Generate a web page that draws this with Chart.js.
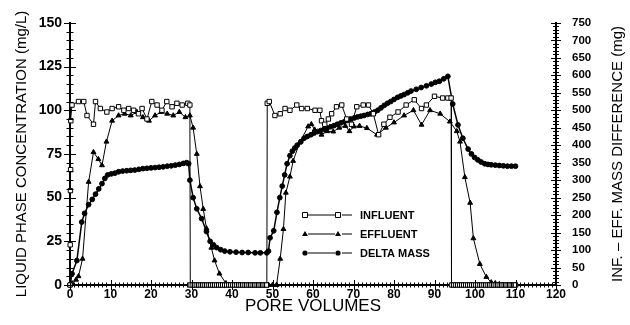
<!DOCTYPE html>
<html>
<head>
<meta charset="utf-8">
<script src="https://cdn.jsdelivr.net/npm/chart.js@4.4.0/dist/chart.umd.min.js"></script>
<style>
  html, body { margin: 0; padding: 0; background: #fff; }
  #wrap { width: 630px; height: 325px; position: relative; }
</style>
</head>
<body>
<div id="wrap"><canvas id="chart"></canvas></div>
<script>
// pore volume, concentration (mg/L)
const influent = [
  [0, 0], [0.05, 23], [0.1, 54], [0.15, 66], [0.2, 94], [0.5, 103], [2.1, 105], [3.4, 105], [4.2, 97], [5.8, 92],
  [6.3, 105], [7.5, 101], [9.1, 99], [10.4, 101], [12.0, 102], [13.3, 100], [14.5, 101], [15.7, 100], [16.9, 98], [17.8, 101],
  [19.0, 95], [20.2, 105], [21.5, 103], [22.7, 100], [23.9, 105], [25.2, 102], [26.4, 104], [27.7, 103], [29.1, 104], [29.6, 103],
  [29.7, 0], [30.2, 0], [30.7, 0], [31.2, 0], [31.7, 0], [32.2, 0], [32.7, 0], [33.2, 0], [33.7, 0], [34.2, 0],
  [34.7, 0], [35.2, 0], [35.7, 0], [36.2, 0], [36.7, 0], [37.2, 0], [37.7, 0], [38.2, 0], [38.7, 0], [39.2, 0],
  [39.7, 0], [40.2, 0], [40.7, 0], [41.2, 0], [41.7, 0], [42.2, 0], [42.7, 0], [43.2, 0], [43.7, 0], [44.2, 0],
  [44.7, 0], [45.2, 0], [45.7, 0], [46.2, 0], [46.7, 0], [47.2, 0], [47.7, 0], [48.2, 0], [48.6, 0],
  [48.7, 104], [49.2, 105], [50.6, 97], [51.9, 98], [53.1, 101], [54.3, 100], [56.0, 103], [57.2, 101], [58.6, 101], [60.5, 100],
  [61.7, 100], [62.1, 94], [62.9, 92], [63.8, 95], [64.6, 98], [65.8, 102], [67.1, 103], [68.3, 95], [69.5, 92], [70.8, 102],
  [72.4, 103], [73.7, 103], [74.9, 98], [76.2, 86], [77.5, 92], [79.0, 96], [81.0, 99], [83.0, 103], [85.0, 106], [86.8, 101],
  [88.0, 103], [90.0, 108], [92.0, 107], [93.3, 107], [94.1, 107],
  [94.2, 0], [94.7, 0], [95.2, 0], [95.7, 0], [96.2, 0], [96.7, 0], [97.2, 0], [97.7, 0], [98.2, 0], [98.7, 0],
  [99.2, 0], [99.7, 0], [100.2, 0], [100.7, 0], [101.2, 0], [101.7, 0], [102.2, 0], [102.7, 0], [103.2, 0], [103.7, 0],
  [104.2, 0], [104.7, 0], [105.2, 0], [105.7, 0], [106.2, 0], [106.7, 0], [107.2, 0], [107.7, 0], [108.2, 0], [108.7, 0],
  [109.2, 0], [109.7, 0], [110, 0]
];

const effluent = [
  [0, 0], [0.5, 1], [1.5, 3], [2.1, 5], [3.1, 15], [4.6, 59], [5.8, 76], [7.0, 72], [7.9, 68.5], [9.0, 82],
  [10.4, 94], [12.0, 97], [13.5, 98], [15, 97], [16.5, 99], [18, 96], [19.5, 94], [21, 97], [22.5, 99], [24, 98],
  [25.5, 97], [27, 99], [28.5, 96], [29.6, 97], [30.4, 90], [31.3, 75], [32.1, 56.5], [32.9, 43.5], [33.7, 32.4], [34.9, 21.3],
  [35.7, 14], [36.9, 6.5], [38.5, 1], [40.2, 0], [41, 0], [42, 0], [43, 0], [44, 0], [45, 0], [46, 0], [47, 0], [48, 0],
  [49, 0], [50, 0], [51, 0],
  [51.9, 15], [52.7, 32], [53.3, 52.8], [54.3, 62], [55.1, 71], [56.7, 81.5], [58.8, 90.7], [59.6, 92], [60.4, 88.9], [62.1, 86],
  [63.5, 88], [65, 87.8], [66.5, 90], [68, 91], [69, 88], [70.1, 90.7], [71.5, 91], [73.3, 89.8], [75.8, 86], [78, 90],
  [80, 93], [82.5, 97], [84.8, 100], [86.8, 91.7], [88.9, 100], [91.4, 98], [93.8, 93.5], [95.5, 88], [96.3, 82], [97.5, 61.7],
  [98.8, 47], [99.6, 26.7], [101.2, 12], [102.8, 4.6], [104, 1.5], [105, 1], [106, 0.5], [107, 0], [108, 0], [109, 0], [110, 0]
];

// pore volume, inf. - eff. mass difference (mg)
const deltaMass = [
  [0, 0], [0.5, 32], [1.7, 70], [2.9, 180], [3.6, 205], [4.6, 230], [5.5, 245], [6.3, 260], [7.1, 275], [7.9, 290],
  [8.6, 305], [9.3, 315], [10.2, 318], [11.1, 320], [12, 324], [13, 326], [14, 327], [15, 328], [16, 329], [17, 331],
  [18, 333], [19, 334], [20, 335], [21, 336], [22, 337], [23, 338], [24, 340], [25, 341], [26, 343], [27, 345],
  [28, 348], [28.8, 350], [29.3, 347], [29.6, 300], [30.4, 250], [31.3, 218], [32.5, 190], [33.7, 153], [34.6, 125], [35.4, 115],
  [36.2, 107], [37.2, 101], [38.2, 97], [39.5, 95], [41, 94], [42.5, 93], [44, 93], [45.7, 92], [47, 92], [48.6, 92],
  [49.0, 97], [49.4, 135], [50.3, 155], [51.1, 208], [51.8, 250], [52.4, 283], [53.0, 315], [53.6, 347], [54.3, 370], [54.9, 383],
  [55.5, 392], [56.1, 400], [57, 410], [57.8, 420], [58.6, 425], [59.5, 430], [60.3, 435], [61.1, 439], [61.9, 442], [62.7, 445],
  [63.5, 449], [64.4, 453], [65.2, 456], [66, 460], [66.9, 464], [67.7, 467], [68.5, 471], [69.3, 475], [70.2, 478], [71, 481],
  [71.8, 483], [72.6, 485], [73.5, 488], [74.3, 490], [75.2, 495], [76, 500], [76.8, 507], [77.6, 514], [78.4, 520], [79.2, 525],
  [80, 531], [80.9, 537], [81.7, 541], [82.5, 545], [83.4, 550], [84.2, 555], [85.5, 560], [86.7, 565], [88, 570], [89.2, 575],
  [90.2, 580], [91.2, 583], [92.3, 590], [93.3, 597], [94.5, 518], [95.8, 458], [97, 420], [98.3, 389], [99.1, 375], [99.9, 365],
  [100.7, 358], [101.5, 352], [102.4, 347], [103.2, 345], [104, 344], [105, 343], [106, 342], [107, 341], [108, 340], [109, 340],
  [110, 340]
];

const seriesLabels = ['INFLUENT', 'EFFLUENT', 'DELTA MASS'];
const xTitle = 'PORE VOLUMES';
const yTitle = 'LIQUID PHASE CONCENTRATION (mg/L)';
const y2Title = 'INF. \u2013 EFF. MASS DIFFERENCE (mg)';

const toPoints = arr => arr.map(p => ({ x: p[0], y: p[1] }));
const FONT = "'Liberation Sans', Arial, Helvetica, sans-serif";

Chart.defaults.font.family = FONT;
Chart.defaults.color = '#000';

// crossing tick marks, right axis title and the old-style legend
const extras = {
  id: 'extras',
  afterDraw(chart) {
    const ctx = chart.ctx;
    const { x, y, y2 } = chart.scales;
    const area = chart.chartArea;
    ctx.save();
    ctx.strokeStyle = '#000';
    ctx.lineWidth = 1;
    ctx.beginPath();
    for (let v = 0; v <= 120; v += 1) {
      const px = Math.round(x.getPixelForValue(v)) + 0.5;
      const len = v % 10 === 0 ? 5 : 2.5;
      ctx.moveTo(px, area.bottom - len);
      ctx.lineTo(px, area.bottom + len);
    }
    for (let v = 0; v <= 150; v += 5) {
      const py = Math.round(y.getPixelForValue(v)) + 0.5;
      const len = v % 25 === 0 ? 6 : 3.5;
      ctx.moveTo(area.left - len, py);
      ctx.lineTo(area.left + len, py);
    }
    for (let v = 0; v <= 750; v += 10) {
      const py = Math.round(y2.getPixelForValue(v)) + 0.5;
      const len = v % 50 === 0 ? 5 : 3;
      ctx.moveTo(area.right - len, py);
      ctx.lineTo(area.right + len, py);
    }
    ctx.stroke();

    // right axis title, reading upward like the left one
    ctx.fillStyle = '#000';
    ctx.font = '15px ' + FONT;
    ctx.textAlign = 'center';
    ctx.textBaseline = 'middle';
    ctx.translate(618, (area.top + area.bottom) / 2);
    ctx.rotate(-Math.PI / 2);
    ctx.fillText(y2Title, 0, 0);
    ctx.restore();

    // legend
    ctx.save();
    ctx.font = 'bold 11px ' + FONT;
    ctx.textAlign = 'left';
    ctx.textBaseline = 'middle';
    const rows = [215, 234, 253];
    chart.data.datasets.forEach((ds, i) => {
      const ry = rows[i];
      ctx.strokeStyle = '#000';
      ctx.lineWidth = 1;
      ctx.beginPath();
      ctx.moveTo(308, ry); ctx.lineTo(335, ry);
      ctx.moveTo(342, ry); ctx.lineTo(352, ry);
      ctx.stroke();
      [305, 338].forEach(mx => marker(ctx, ds.pointStyle, mx, ry));
      ctx.fillStyle = '#000';
      ctx.fillText(ds.label, 360, ry + 0.5);
    });
    ctx.restore();
  }
};

function marker(ctx, style, mx, my) {
  ctx.beginPath();
  if (style === 'rect') {
    ctx.rect(mx - 2.5, my - 2.5, 5, 5);
    ctx.fillStyle = '#fff';
    ctx.fill();
    ctx.stroke();
  } else if (style === 'triangle') {
    ctx.moveTo(mx, my - 3);
    ctx.lineTo(mx + 3, my + 2);
    ctx.lineTo(mx - 3, my + 2);
    ctx.closePath();
    ctx.fillStyle = '#000';
    ctx.fill();
  } else {
    ctx.arc(mx, my, 2.6, 0, Math.PI * 2);
    ctx.fillStyle = '#000';
    ctx.fill();
  }
}

new Chart(document.getElementById('chart'), {
  type: 'line',
  data: {
    datasets: [
      {
        label: seriesLabels[0], data: toPoints(influent), yAxisID: 'y',
        borderColor: '#000', borderWidth: 1, pointStyle: 'rect', pointRadius: 3.1,
        pointBackgroundColor: '#fff', pointBorderColor: '#000', pointBorderWidth: 1, order: 1
      },
      {
        label: seriesLabels[1], data: toPoints(effluent), yAxisID: 'y',
        borderColor: '#000', borderWidth: 1, pointStyle: 'triangle', pointRadius: 2.8,
        pointBackgroundColor: '#000', pointBorderColor: '#000', pointBorderWidth: 1, order: 2
      },
      {
        label: seriesLabels[2], data: toPoints(deltaMass), yAxisID: 'y2',
        borderColor: '#000', borderWidth: 1.5, pointStyle: 'circle', pointRadius: 2.4,
        pointBackgroundColor: '#000', pointBorderColor: '#000', pointBorderWidth: 1, order: 3
      }
    ]
  },
  options: {
    responsive: true,
    maintainAspectRatio: false,
    animation: false,
    events: [],
    layout: { padding: { top: 15, left: 0, right: 0, bottom: 0 } },
    elements: { line: { tension: 0, fill: false }, point: { hitRadius: 0 } },
    datasets: { line: { clip: 8 } },
    plugins: { legend: { display: false }, tooltip: { enabled: false } },
    scales: {
      x: {
        type: 'linear', min: 0, max: 120,
        ticks: { stepSize: 10, autoSkip: false, padding: 2, font: { size: 12, weight: 'bold' }, color: '#000' },
        grid: { display: false, drawTicks: false },
        border: { color: '#000', width: 2 },
        title: { display: true, text: xTitle, font: { size: 17 }, color: '#000', padding: { top: 0, bottom: 8 } },
        afterFit: s => { s.height = 40; }
      },
      y: {
        position: 'left', min: 0, max: 150,
        ticks: { stepSize: 25, padding: 8, font: { size: 14, weight: 'bold' }, color: '#000' },
        grid: { display: false, drawTicks: false },
        border: { color: '#000', width: 2 },
        title: { display: true, text: yTitle, font: { size: 15 }, color: '#000', padding: { top: 13, bottom: 0 } },
        afterFit: s => { s.width = 70; }
      },
      y2: {
        position: 'right', min: 0, max: 750,
        ticks: { stepSize: 50, padding: 16, font: { size: 11.5, weight: 'bold' }, color: '#000' },
        grid: { display: false, drawTicks: false },
        border: { color: '#000', width: 2 },
        afterFit: s => { s.width = 74; }
      }
    }
  },
  plugins: [extras]
});
</script>
</body>
</html>
